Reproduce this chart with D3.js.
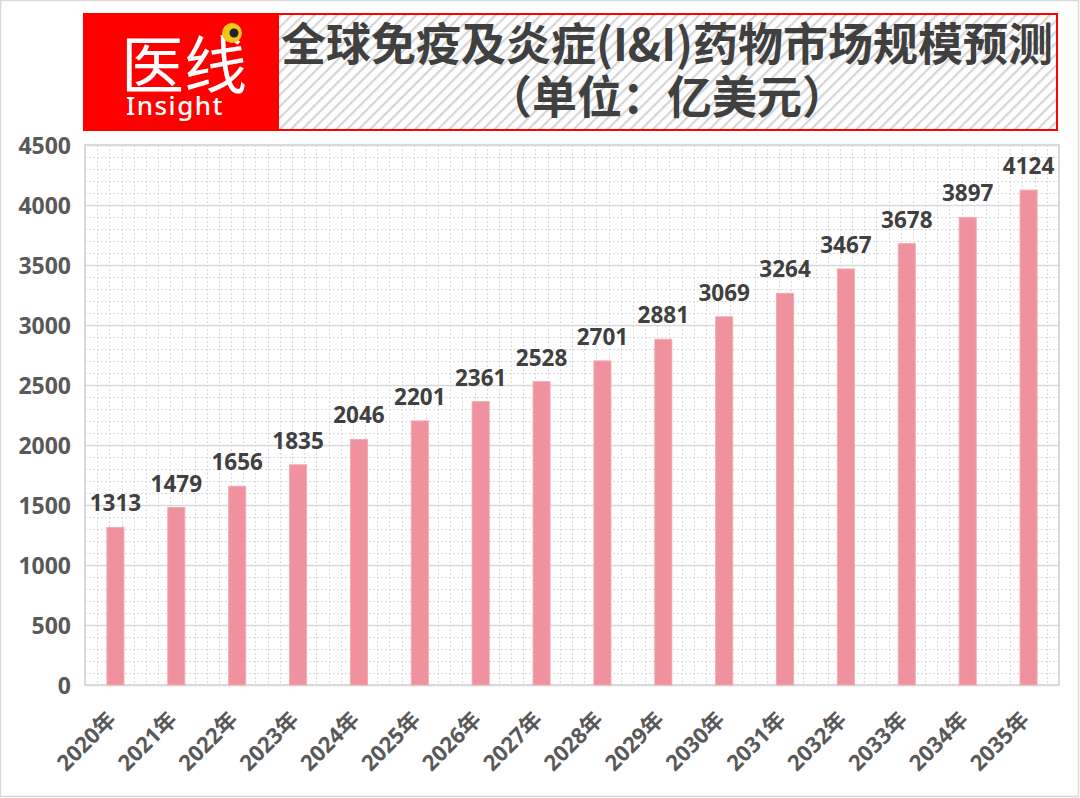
<!DOCTYPE html>
<html>
<head>
<meta charset="utf-8">
<script src="https://cdn.jsdelivr.net/npm/d3@7"></script>
<style>
  body { margin: 0; background: #fff; }
  svg { display: block; }
</style>
</head>
<body>
<script>
var width = 1080;
var height = 798;

// data
var years = ["2020年", "2021年", "2022年", "2023年", "2024年", "2025年", "2026年", "2027年",
             "2028年", "2029年", "2030年", "2031年", "2032年", "2033年", "2034年", "2035年"];
var marketSize = [1313, 1479, 1656, 1835, 2046, 2201, 2361, 2528,
                  2701, 2881, 3069, 3264, 3467, 3678, 3897, 4124];
var yTicks = [0, 500, 1000, 1500, 2000, 2500, 3000, 3500, 4000, 4500];
var titleLines = ["全球免疫及炎症(I&I)药物市场规模预测", "（单位：亿美元）"];

var numFont = "'Open Sans', 'Noto Sans CJK SC', sans-serif";
var cjkFont = "'Noto Sans CJK SC', 'Open Sans', sans-serif";

var plot = { left: 85, right: 1059, top: 145, bottom: 685 };

var svg = d3.select("body").append("svg")
  .attr("width", width)
  .attr("height", height);

var defs = svg.append("defs");
var pat = defs.append("pattern")
  .attr("id", "stripes")
  .attr("patternUnits", "userSpaceOnUse")
  .attr("width", 8)
  .attr("height", 8)
  .attr("patternTransform", "rotate(45)");
pat.append("rect").attr("width", 8).attr("height", 8).attr("fill", "#fff");
pat.append("rect").attr("width", 2.2).attr("height", 8).attr("fill", "#d6d6d6");

// outer frame
svg.append("rect")
  .attr("x", 0.5).attr("y", 0.5)
  .attr("width", width - 2).attr("height", height - 2)
  .attr("fill", "#fff")
  .attr("stroke", "#d9d9d9")
  .attr("stroke-width", 1.5);

// header: logo block + title box
svg.append("rect")
  .attr("x", 83).attr("y", 13)
  .attr("width", 195).attr("height", 118)
  .attr("fill", "#ff0000");

svg.append("rect")
  .attr("x", 278).attr("y", 14)
  .attr("width", 779).attr("height", 116)
  .attr("fill", "url(#stripes)")
  .attr("stroke", "#ff0000")
  .attr("stroke-width", 2);

// logo: one text with two lines
var logo = svg.append("text")
  .style("fill", "#fff");
logo.append("tspan")
  .attr("x", 184).attr("y", 88)
  .attr("text-anchor", "middle")
  .style("font-family", cjkFont)
  .style("font-weight", 400)
  .style("font-size", "63px")
  .text("医线");
logo.append("tspan")
  .attr("x", 175).attr("y", 115)
  .attr("text-anchor", "middle")
  .style("font-family", "'Noto Sans', sans-serif")
  .style("font-weight", 500)
  .style("font-size", "26px")
  .style("letter-spacing", "1.5px")
  .text("Insight");
svg.append("circle")
  .attr("cx", 232).attr("cy", 33).attr("r", 10)
  .attr("fill", "#f5c518");
svg.append("circle")
  .attr("cx", 234).attr("cy", 33).attr("r", 4.5)
  .attr("fill", "#222");

// title: one text, two lines
var title = svg.append("text")
  .attr("text-anchor", "middle")
  .style("font-family", cjkFont)
  .style("font-weight", 700)
  .style("font-size", "45px")
  .style("fill", "#404040");
title.selectAll("tspan")
  .data(titleLines)
  .enter().append("tspan")
  .attr("x", 667)
  .attr("y", function(d, i) { return 61 + i * 53; })
  .text(function(d) { return d; });

// scales
var x = d3.scaleBand()
  .domain(years)
  .range([plot.left, plot.right])
  .paddingInner(0.72)
  .paddingOuter(0.36);

var band = d3.scaleBand()
  .domain(years)
  .range([plot.left, plot.right]);

var y = d3.scaleLinear()
  .domain([0, 4500])
  .range([plot.bottom, plot.top]);

// minor grid: dotted
var minorY = d3.range(0, 4501, 100).filter(function(v) { return v % 500 !== 0; });
svg.append("g").selectAll("line")
  .data(minorY)
  .enter().append("line")
  .attr("x1", plot.left).attr("x2", plot.right)
  .attr("y1", function(d) { return Math.round(y(d)) + 0.5; })
  .attr("y2", function(d) { return Math.round(y(d)) + 0.5; })
  .style("stroke", "#d9d9d9")
  .style("stroke-width", 1)
  .style("stroke-dasharray", "2,2");

var minorX = [];
years.forEach(function(yr) {
  for (var k = 1; k <= 5; k++) {
    minorX.push(band(yr) + band.bandwidth() * k / 5);
  }
});
svg.append("g").selectAll("line")
  .data(minorX)
  .enter().append("line")
  .attr("x1", function(d) { return Math.round(d) + 0.5; })
  .attr("x2", function(d) { return Math.round(d) + 0.5; })
  .attr("y1", plot.top).attr("y2", plot.bottom)
  .style("stroke", "#d9d9d9")
  .style("stroke-width", 1)
  .style("stroke-dasharray", "2,2");

// major grid
svg.append("g").selectAll("line")
  .data(yTicks)
  .enter().append("line")
  .attr("x1", plot.left).attr("x2", plot.right)
  .attr("y1", function(d) { return Math.round(y(d)) + 0.5; })
  .attr("y2", function(d) { return Math.round(y(d)) + 0.5; })
  .style("stroke", "#d9d9d9")
  .style("stroke-width", 1.5);

// plot border
svg.append("rect")
  .attr("x", plot.left).attr("y", plot.top)
  .attr("width", plot.right - plot.left)
  .attr("height", plot.bottom - plot.top)
  .attr("fill", "none")
  .attr("stroke", "#d9d9d9")
  .attr("stroke-width", 2);

// y axis
var yAxis = svg.append("g")
  .attr("transform", "translate(" + (plot.left - 14) + ",0)")
  .call(d3.axisLeft(y).tickValues(yTicks).tickFormat(d3.format("d")).tickSize(0).tickPadding(0));
yAxis.select(".domain").remove();
yAxis.selectAll("text")
  .attr("dy", "0.36em")
  .style("font-family", numFont)
  .style("font-weight", 700)
  .style("font-size", "23px")
  .style("fill", "#595959");

// bars
svg.append("g").selectAll("rect")
  .data(marketSize)
  .enter().append("rect")
  .attr("x", function(d, i) { return x(years[i]); })
  .attr("y", function(d) { return y(d); })
  .attr("width", x.bandwidth())
  .attr("height", function(d) { return plot.bottom - y(d); })
  .style("fill", "#ef929d")
  .style("stroke", "#f4aab3")
  .style("stroke-width", 1);

// value labels
svg.append("g").selectAll("text")
  .data(marketSize)
  .enter().append("text")
  .attr("x", function(d, i) { return x(years[i]) + x.bandwidth() / 2; })
  .attr("y", function(d) { return y(d) - 16; })
  .attr("text-anchor", "middle")
  .style("font-family", numFont)
  .style("font-weight", 700)
  .style("font-size", "22.5px")
  .style("fill", "#404040")
  .text(function(d) { return d; });

// x axis labels, rotated
svg.append("g").selectAll("text")
  .data(years)
  .enter().append("text")
  .attr("transform", function(d) {
    var cx = x(d) + x.bandwidth() / 2 + 2;
    return "translate(" + cx + "," + (plot.bottom + 36) + ") rotate(-45)";
  })
  .attr("text-anchor", "end")
  .style("font-family", numFont)
  .style("font-weight", 700)
  .style("font-size", "22px")
  .style("fill", "#595959")
  .text(function(d) { return d; });
</script>
</body>
</html>
